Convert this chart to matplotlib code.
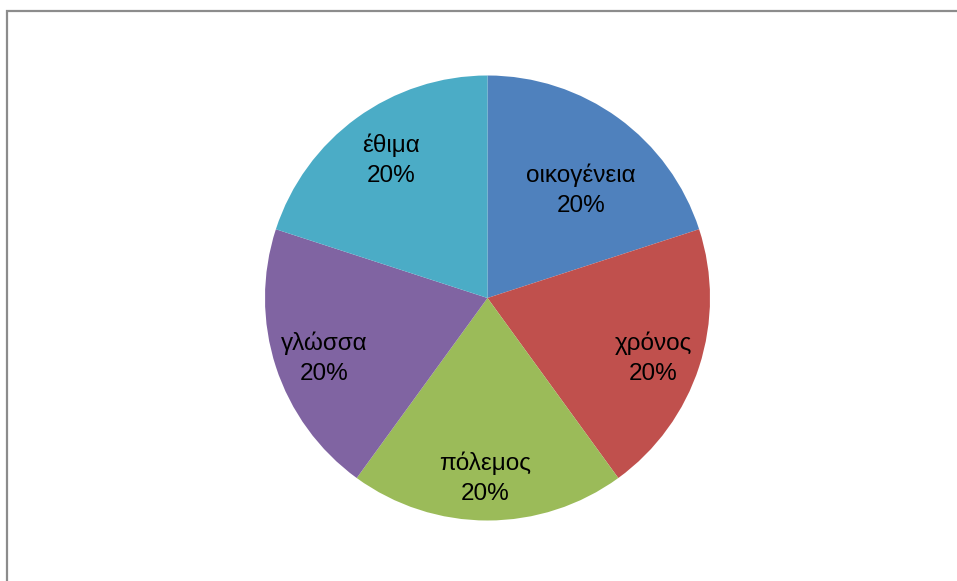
import matplotlib.pyplot as plt
from matplotlib.patches import Rectangle

labels = ['οικογένεια', 'χρόνος', 'πόλεμος', 'γλώσσα', 'έθιμα']
values = [1, 1, 1, 1, 1]
colors = ['#4F81BD', '#C0504D', '#9BBB59', '#8064A2', '#4BACC6']
# label anchor points, in units of the pie radius
label_pos = [(0.42, 0.485), (0.745, -0.27), (-0.01, -0.81), (-0.735, -0.27), (-0.435, 0.62)]

W, H = 957, 581
cx, cy, r = 487.5, 298, 222.5

fig = plt.figure(figsize=(W / 100, H / 100), dpi=100)
fig.patch.set_facecolor('white')

# chart area frame (only top and left edges are visible)
fig.add_artist(Rectangle((7.5 / W, -0.1), 1.2, 1.1 - 10.5 / H, transform=fig.transFigure,
                         fill=False, edgecolor='#8c8c8c', linewidth=1.6))

ax = fig.add_axes([0, 0, 1, 1])
ax.pie(values, colors=colors, startangle=90, counterclock=False, radius=1,
       wedgeprops={'linewidth': 0})
ax.set_aspect('auto')
ax.set_xlim(-cx / r, (W - cx) / r)
ax.set_ylim(-(H - cy) / r, cy / r)
ax.axis('off')

total = sum(values)
for name, v, (x, y) in zip(labels, values, label_pos):
    ax.text(x, y, f'{name}\n{v / total:.0%}', ha='center', va='center',
            fontsize=17.5, family='Liberation Sans', linespacing=1.45, color='black')

fig.savefig('out.png', dpi=100)
